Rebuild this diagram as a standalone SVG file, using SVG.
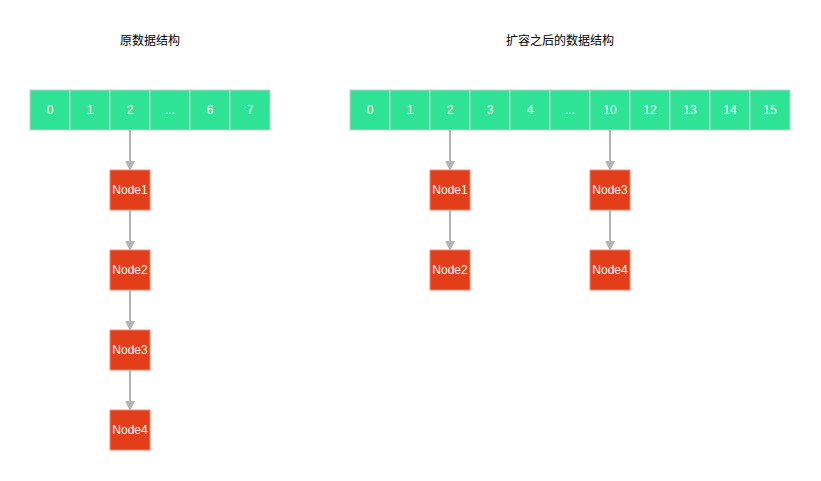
<svg xmlns="http://www.w3.org/2000/svg" width="821" height="481" viewBox="0 0 821 481">
<defs>
<style>
.cell{fill:#2ee396;stroke:#cccccc;stroke-width:1}
.node{fill:#e33e1a;stroke:#f08a78;stroke-width:1}
.ct{font-family:"Liberation Sans",Arial,sans-serif;font-size:12px;fill:#ffffff;text-anchor:middle;dominant-baseline:central}
.title{font-family:"Liberation Sans","Noto Sans CJK SC",sans-serif;font-size:12px;fill:#000000;text-anchor:middle}
.edge{stroke:#b3b3b3;stroke-width:2;fill:none;marker-end:url(#ah)}
</style>
<marker id="ah" markerWidth="10" markerHeight="10" refX="8" refY="5" orient="auto" markerUnits="userSpaceOnUse">
<path d="M0,0 L10,5 L0,10 Z" fill="#b3b3b3"/>
</marker>
</defs>
<rect width="821" height="481" fill="#ffffff"/>
<text class="title" x="150" y="45">原数据结构</text>
<text class="title" x="560" y="45">扩容之后的数据结构</text>
<g id="old-array">
<rect class="cell" x="30" y="90" width="40" height="40"/><text class="ct" x="50" y="110">0</text>
<rect class="cell" x="70" y="90" width="40" height="40"/><text class="ct" x="90" y="110">1</text>
<rect class="cell" x="110" y="90" width="40" height="40"/><text class="ct" x="130" y="110">2</text>
<rect class="cell" x="150" y="90" width="40" height="40"/><text class="ct" x="170" y="110">...</text>
<rect class="cell" x="190" y="90" width="40" height="40"/><text class="ct" x="210" y="110">6</text>
<rect class="cell" x="230" y="90" width="40" height="40"/><text class="ct" x="250" y="110">7</text>
</g>
<g id="new-array">
<rect class="cell" x="350" y="90" width="40" height="40"/><text class="ct" x="370" y="110">0</text>
<rect class="cell" x="390" y="90" width="40" height="40"/><text class="ct" x="410" y="110">1</text>
<rect class="cell" x="430" y="90" width="40" height="40"/><text class="ct" x="450" y="110">2</text>
<rect class="cell" x="470" y="90" width="40" height="40"/><text class="ct" x="490" y="110">3</text>
<rect class="cell" x="510" y="90" width="40" height="40"/><text class="ct" x="530" y="110">4</text>
<rect class="cell" x="550" y="90" width="40" height="40"/><text class="ct" x="570" y="110">...</text>
<rect class="cell" x="590" y="90" width="40" height="40"/><text class="ct" x="610" y="110">10</text>
<rect class="cell" x="630" y="90" width="40" height="40"/><text class="ct" x="650" y="110">12</text>
<rect class="cell" x="670" y="90" width="40" height="40"/><text class="ct" x="690" y="110">13</text>
<rect class="cell" x="710" y="90" width="40" height="40"/><text class="ct" x="730" y="110">14</text>
<rect class="cell" x="750" y="90" width="40" height="40"/><text class="ct" x="770" y="110">15</text>
</g>
<g id="connectors">
<line class="edge" x1="130" y1="130" x2="130" y2="169"/>
<line class="edge" x1="130" y1="210" x2="130" y2="249"/>
<line class="edge" x1="130" y1="290" x2="130" y2="329"/>
<line class="edge" x1="130" y1="370" x2="130" y2="409"/>
<line class="edge" x1="450" y1="130" x2="450" y2="169"/>
<line class="edge" x1="450" y1="210" x2="450" y2="249"/>
<line class="edge" x1="610" y1="130" x2="610" y2="169"/>
<line class="edge" x1="610" y1="210" x2="610" y2="249"/>
</g>
<g id="old-node1"><rect class="node" x="110" y="170" width="40" height="40"/><text class="ct" x="130" y="190">Node1</text></g>
<g id="old-node2"><rect class="node" x="110" y="250" width="40" height="40"/><text class="ct" x="130" y="270">Node2</text></g>
<g id="old-node3"><rect class="node" x="110" y="330" width="40" height="40"/><text class="ct" x="130" y="350">Node3</text></g>
<g id="old-node4"><rect class="node" x="110" y="410" width="40" height="40"/><text class="ct" x="130" y="430">Node4</text></g>
<g id="new-node1"><rect class="node" x="430" y="170" width="40" height="40"/><text class="ct" x="450" y="190">Node1</text></g>
<g id="new-node2"><rect class="node" x="430" y="250" width="40" height="40"/><text class="ct" x="450" y="270">Node2</text></g>
<g id="new-node3"><rect class="node" x="590" y="170" width="40" height="40"/><text class="ct" x="610" y="190">Node3</text></g>
<g id="new-node4"><rect class="node" x="590" y="250" width="40" height="40"/><text class="ct" x="610" y="270">Node4</text></g>
</svg>
